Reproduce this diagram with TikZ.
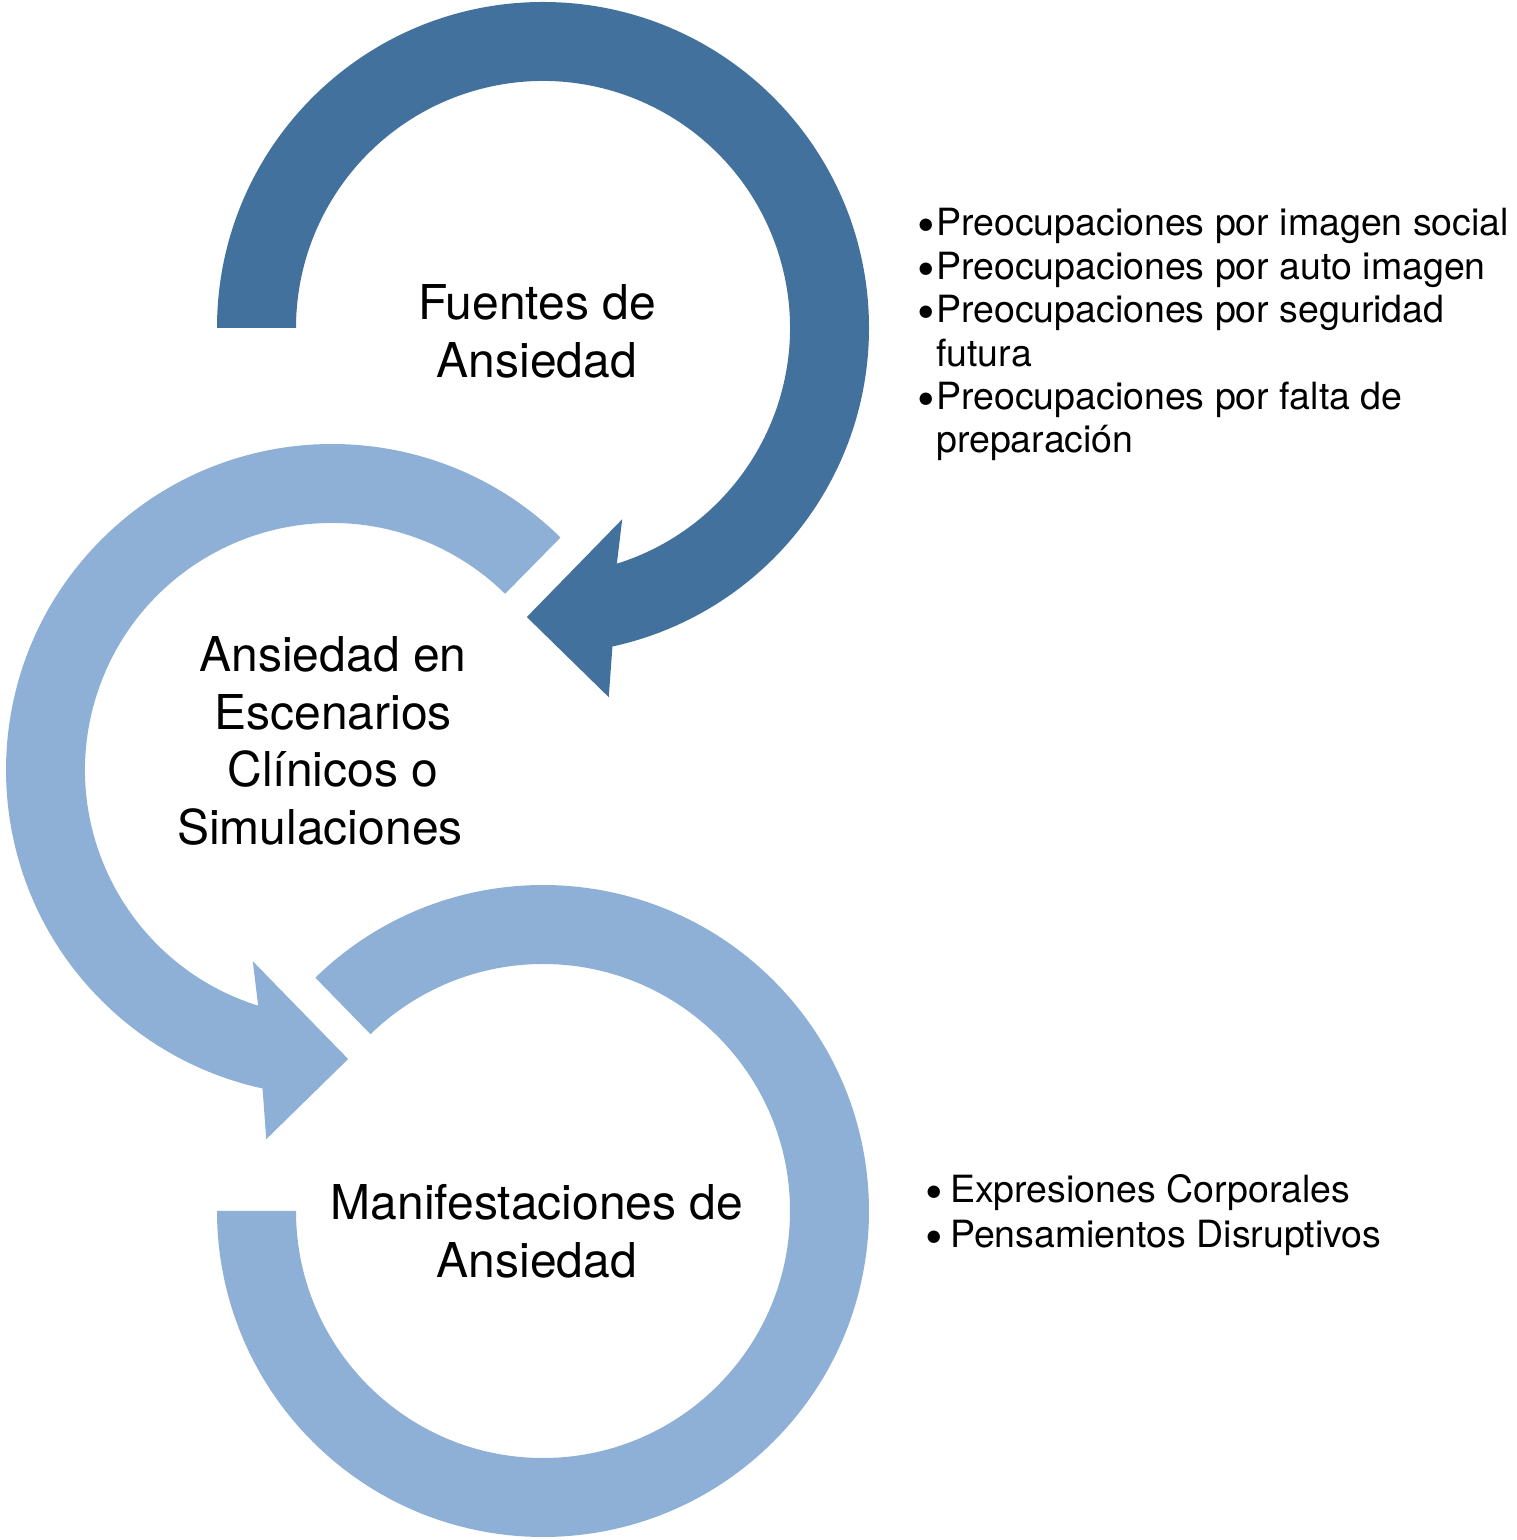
\documentclass[tikz,border=0pt]{standalone}
\usepackage{fontspec}
\setmainfont{TeX Gyre Heros}
\definecolor{darkarc}{RGB}{65,113,156}
\definecolor{lightarc}{RGB}{143,176,214}
\newcommand\mybul[1]{\leavevmode\llap{\smash{\raisebox{-7pt}{\fontsize{50}{0}\selectfont •}}\kern#1}}
\begin{document}
\begin{tikzpicture}[x=1pt,y=1pt,
  darkfill/.style={fill=darkarc,draw=none},
  lightfill/.style={fill=lightarc,draw=none},
  title/.style={anchor=base,inner sep=0pt,font=\fontsize{48}{57.5}\selectfont},
  bullets/.style={anchor=base west,inner sep=0pt,font=\fontsize{37.5}{43.4}\selectfont}]
\useasboundingbox (0,0) rectangle (1517,1540);
\coordinate (c1) at (543,1212);
\coordinate (c2) at (332,770);
\coordinate (c3) at (543,329);
% arc 1 (dark, clockwise)
\path[darkfill] ([shift={(c1)}]180:326) arc[start angle=180,end angle=-77.7,radius=326]
  -- ([shift={(c1)}]-79.9:375) -- ([shift={(c1)}]-93.2:289.5) -- ([shift={(c1)}]-67.5:207)
  -- ([shift={(c1)}]-72.6:247) arc[start angle=-72.6,end angle=180,radius=247] -- cycle;
% arc 2 (light, counterclockwise)
\path[lightfill] ([shift={(c2)}]45.5:326) arc[start angle=45.5,end angle=257.7,radius=326]
  -- ([shift={(c2)}]259.9:375) -- ([shift={(c2)}]273.2:289.5) -- ([shift={(c2)}]247.5:207)
  -- ([shift={(c2)}]252.6:247) arc[start angle=252.6,end angle=45.5,radius=247] -- cycle;
% arc 3 (light, clockwise, no head)
\path[lightfill] ([shift={(c3)}]134.3:326) arc[start angle=134.3,end angle=-180,radius=326]
  -- ([shift={(c3)}]180:247) arc[start angle=-180,end angle=134.3,radius=247] -- cycle;
% titles
\node[title] (t1) at (537,1220) {\parbox[t]{400pt}{\centering Fuentes de\\Ansiedad}};
\node[title] (t2) at (333,868) {\parbox[t]{400pt}{\centering Ansiedad en\\Escenarios\\Clínicos o\\Simulaciones\kern26pt}};
\node[title] (t3) at (537,320) {\parbox[t]{500pt}{\centering Manifestaciones de\\Ansiedad}};
% bullet lists
\node[bullets] (b1) at (936,1304) {\parbox[t]{580pt}{\raggedright
  \mybul{1pt}Preocupaciones por imagen social\\
  \mybul{1pt}Preocupaciones por auto imagen\\
  \mybul{1pt}Preocupaciones por seguridad\\
  \leavevmode futura\\
  \mybul{1pt}Preocupaciones por falta de\\
  \leavevmode preparación}};
\node[bullets] (b2) at (950,337) {\parbox[t]{500pt}{\raggedright\baselineskip=44.6pt
  \mybul{7pt}Expresiones Corporales\\
  \mybul{7pt}Pensamientos Disruptivos}};
\end{tikzpicture}
\end{document}
